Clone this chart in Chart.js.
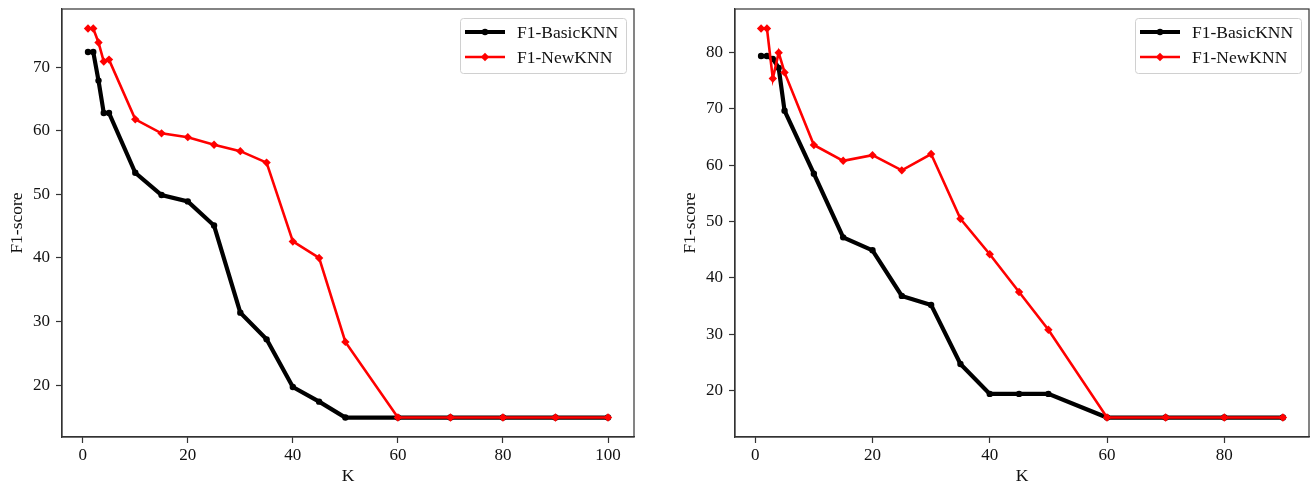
<!DOCTYPE html>
<html>
<head>
<meta charset="utf-8">
<script src="https://cdn.jsdelivr.net/npm/chart.js@4.4.1/dist/chart.umd.min.js"></script>
<style>
  html, body { margin: 0; padding: 0; background: #fff; }
  #wrap { position: relative; width: 1314px; height: 490px; }
  canvas { position: absolute; top: 0; }
  #left { left: 0; }
  #right { left: 660px; }
</style>
</head>
<body>
<div id="wrap">
  <canvas id="left" width="660" height="490"></canvas>
  <canvas id="right" width="654" height="490"></canvas>
</div>
<script>
// K values for each panel
const kLeft = [1, 2, 3, 4, 5, 10, 15, 20, 25, 30, 35, 40, 45, 50, 60, 70, 80, 90, 100];
const kRight = [1, 2, 3, 4, 5, 10, 15, 20, 25, 30, 35, 40, 45, 50, 60, 70, 80, 90];

// F1 scores, left panel
const basicLeft = [72.4, 72.4, 67.9, 62.8, 62.8, 53.4, 49.9, 48.9, 45.1, 31.4, 27.2, 19.7, 17.4, 14.9, 14.9, 14.9, 14.9, 14.9, 14.9];
const newLeft = [76.1, 76.1, 73.9, 70.9, 71.2, 61.8, 59.6, 59.0, 57.8, 56.8, 55.0, 42.6, 40.0, 26.8, 14.9, 14.9, 14.9, 14.9, 14.9];

// F1 scores, right panel
const basicRight = [79.4, 79.4, 78.9, 77.3, 69.7, 58.5, 47.2, 44.9, 36.8, 35.2, 24.7, 19.4, 19.4, 19.4, 15.2, 15.2, 15.2, 15.2];
const newRight = [84.3, 84.3, 75.4, 80.0, 76.5, 63.6, 60.8, 61.8, 59.1, 62.0, 50.5, 44.2, 37.5, 30.8, 15.2, 15.2, 15.2, 15.2];

// tick labels
const xTicksLeft = [0, 20, 40, 60, 80, 100];
const yTicksLeft = [20, 30, 40, 50, 60, 70];
const xTicksRight = [0, 20, 40, 60, 80];
const yTicksRight = [20, 30, 40, 50, 60, 70, 80];

const seriesNames = ['F1-BasicKNN', 'F1-NewKNN'];

const SERIF = '"Liberation Serif", "DejaVu Serif", serif';
const AXIS = '#333333';

// matplotlib style 5% margin around data
function padded(values) {
  const lo = Math.min(...values);
  const hi = Math.max(...values);
  const m = (hi - lo) * 0.05;
  return { min: lo - m, max: hi + m };
}

function toPoints(xs, ys) {
  return xs.map((x, i) => ({ x, y: ys[i] }));
}

// frame (top/right spines) + matplotlib style legend box
const framePlugin = {
  id: 'frame',
  afterDatasetsDraw(chart) {
    const { ctx, chartArea: a } = chart;
    ctx.save();
    ctx.strokeStyle = AXIS;
    ctx.lineWidth = 1.2;
    ctx.strokeRect(a.left, a.top, a.right - a.left, a.bottom - a.top);

    // legend
    const w = 166, h = 55;
    const bx = a.right - 8 - w;
    const by = a.top + 9;
    ctx.fillStyle = 'rgba(255,255,255,0.85)';
    ctx.strokeStyle = '#d0d0d0';
    ctx.lineWidth = 1;
    ctx.beginPath();
    ctx.roundRect(bx + 0.5, by + 0.5, w, h, 3);
    ctx.fill();
    ctx.stroke();

    chart.data.datasets.slice().sort((p, q) => p.legendRow - q.legendRow).forEach((ds, i) => {
      const y = by + 14 + i * 25;
      const x0 = bx + 5, x1 = bx + 45;
      ctx.strokeStyle = ds.borderColor;
      ctx.lineWidth = ds.borderWidth;
      ctx.beginPath();
      ctx.moveTo(x0, y);
      ctx.lineTo(x1, y);
      ctx.stroke();
      ctx.fillStyle = ds.borderColor;
      const cx = (x0 + x1) / 2;
      ctx.beginPath();
      if (ds.pointStyle === 'rectRot') {
        const r = ds.pointRadius;
        ctx.moveTo(cx, y - r);
        ctx.lineTo(cx + r, y);
        ctx.lineTo(cx, y + r);
        ctx.lineTo(cx - r, y);
        ctx.closePath();
      } else {
        ctx.arc(cx, y, ds.pointRadius, 0, Math.PI * 2);
      }
      ctx.fill();
      ctx.fillStyle = '#111';
      ctx.font = '17.5px ' + SERIF;
      ctx.textBaseline = 'middle';
      ctx.textAlign = 'left';
      ctx.fillText(ds.label, bx + 57, y + 1);
    });
    ctx.restore();
  }
};

function makeChart(canvasId, ks, basic, improved, xTicks, yTicks, yAxisWidth, yTitlePad, rightPad) {
  const xr = padded(ks);
  const yr = padded(basic.concat(improved));
  const tickFont = { family: SERIF, size: 17 };

  return new Chart(document.getElementById(canvasId), {
    type: 'line',
    data: {
      datasets: [
        {
          label: seriesNames[1],
          legendRow: 1,
          data: toPoints(ks, improved),
          borderColor: '#ff0000',
          backgroundColor: '#ff0000',
          borderWidth: 2.6,
          pointStyle: 'rectRot',
          pointRadius: 4.2,
          pointBorderWidth: 0,
          tension: 0,
          order: 0
        },
        {
          label: seriesNames[0],
          legendRow: 0,
          data: toPoints(ks, basic),
          borderColor: '#000000',
          backgroundColor: '#000000',
          borderWidth: 4.2,
          pointStyle: 'circle',
          pointRadius: 3.2,
          pointBorderWidth: 0,
          tension: 0,
          order: 1
        }
      ]
    },
    options: {
      responsive: false,
      animation: false,
      layout: { padding: { top: 9, right: rightPad, bottom: 0, left: 0 } },
      plugins: {
        legend: { display: false },
        tooltip: { enabled: false }
      },
      scales: {
        x: {
          type: 'linear',
          min: xr.min,
          max: xr.max,
          afterBuildTicks: (s) => { s.ticks = xTicks.map(v => ({ value: v })); },
          afterFit: (s) => { s.height = 53; s.paddingLeft = 0; s.paddingRight = 0; },
          grid: { drawOnChartArea: false, drawTicks: true, tickLength: 6, color: AXIS, tickWidth: 1.2 },
          border: { display: true, color: AXIS, width: 1.2 },
          ticks: { font: tickFont, color: '#111', padding: 2, maxRotation: 0 },
          title: { display: true, text: 'K', font: { family: SERIF, size: 17.5 }, color: '#111', padding: { top: 0, bottom: 3 } }
        },
        y: {
          type: 'linear',
          min: yr.min,
          max: yr.max,
          afterBuildTicks: (s) => { s.ticks = yTicks.map(v => ({ value: v })); },
          afterFit: (s) => { s.width = yAxisWidth; s.paddingTop = 0; s.paddingBottom = 0; },
          grid: { drawOnChartArea: false, drawTicks: true, tickLength: 6, color: AXIS, tickWidth: 1.2 },
          border: { display: true, color: AXIS, width: 1.2 },
          ticks: { font: tickFont, color: '#111', padding: 6 },
          title: { display: true, text: 'F1-score', font: { family: SERIF, size: 17.5 }, color: '#111', padding: { top: yTitlePad, bottom: 0 } }
        }
      }
    },
    plugins: [framePlugin]
  });
}

makeChart('left', kLeft, basicLeft, newLeft, xTicksLeft, yTicksLeft, 62, 6.5, 26);
makeChart('right', kRight, basicRight, newRight, xTicksRight, yTicksRight, 75, 20, 5);
</script>
</body>
</html>
